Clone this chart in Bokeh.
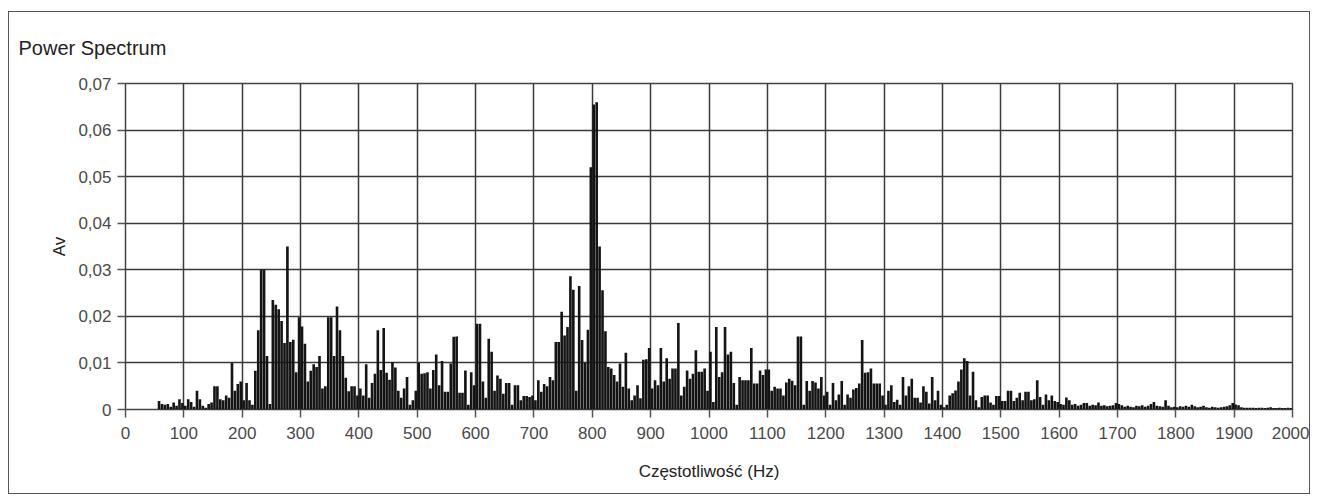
from bokeh.plotting import figure
from bokeh.models import FixedTicker
from bokeh.embed import file_html
from bokeh.resources import INLINE

# Power spectrum amplitudes (Av), one value per 5 Hz bin
av_0_495 = [
    0, 0, 0, 0, 0, 0, 0, 0, 0, 0, 0, 0.0018, 0.0012, 0.001, 0.0012, 0.0006, 0.0015, 0.0008, 0.0022, 0.0014,
    0.0008, 0.0022, 0.0016, 0.0006, 0.004, 0.0022, 0.0008, 0.0004, 0.0012, 0.0015, 0.005, 0.005, 0.0022, 0.002, 0.003, 0.0025, 0.010, 0.004, 0.0055, 0.006,
    0.002, 0.0057, 0.002, 0.001, 0.0083, 0.017, 0.030, 0.030, 0.0115, 0.0012, 0.0235, 0.0225, 0.0215, 0.019, 0.0143, 0.035, 0.0145, 0.015, 0.008, 0.0198,
    0.0178, 0.0141, 0.006, 0.0083, 0.0097, 0.0091, 0.0115, 0.0045, 0.005, 0.0198, 0.0198, 0.0115, 0.0221, 0.017, 0.0115, 0.0068, 0.0039, 0.005, 0.005, 0.003,
    0.0045, 0.003, 0.0097, 0.0025, 0.0057, 0.0077, 0.017, 0.0085, 0.0175, 0.0079, 0.0064, 0.0102, 0.009, 0.004, 0.0025, 0.0045, 0.007, 0.001, 0.002, 0.004,
]
av_500_995 = [
    0.010, 0.0077, 0.0078, 0.008, 0.0045, 0.0085, 0.0118, 0.0052, 0.0104, 0.0038, 0.0038, 0.0099, 0.0156, 0.0157, 0.0036, 0.0036, 0.0084, 0.001, 0.008, 0.0052,
    0.0184, 0.0184, 0.006, 0.0025, 0.0152, 0.0124, 0.004, 0.0073, 0.0066, 0.0034, 0.0057, 0.0057, 0.001, 0.0052, 0.0052, 0.002, 0.0029, 0.0029, 0.0027, 0.003,
    0.002, 0.0063, 0.0038, 0.0055, 0.005, 0.007, 0.0063, 0.0145, 0.0145, 0.021, 0.0159, 0.0177, 0.0286, 0.0257, 0.004, 0.0265, 0.0149, 0.01, 0.0171, 0.052,
    0.0655, 0.066, 0.035, 0.0256, 0.0168, 0.0091, 0.0088, 0.0074, 0.006, 0.0099, 0.0049, 0.0122, 0.0045, 0.002, 0.003, 0.0052, 0.0024, 0.0107, 0.0108, 0.0132,
    0.0045, 0.0063, 0.0052, 0.0132, 0.006, 0.011, 0.0066, 0.0088, 0.0088, 0.0186, 0.003, 0.0049, 0.0084, 0.0066, 0.0077, 0.0127, 0.0081, 0.0081, 0.0088, 0.004,
]
av_1000_1495 = [
    0.0124, 0.0016, 0.0177, 0.007, 0.008, 0.0177, 0.0118, 0.0124, 0.0057, 0.001, 0.007, 0.0063, 0.0063, 0.0063, 0.0132, 0.0056, 0.0056, 0.0084, 0.0074, 0.0086,
    0.0086, 0.004, 0.0049, 0.0045, 0.0045, 0.003, 0.0058, 0.0066, 0.0062, 0.0052, 0.0157, 0.0157, 0.001, 0.0061, 0.004, 0.0061, 0.0058, 0.0045, 0.007, 0.003,
    0.0038, 0.001, 0.0057, 0.002, 0.0032, 0.0061, 0.001, 0.0032, 0.0025, 0.0043, 0.0046, 0.0056, 0.0149, 0.0079, 0.008, 0.0088, 0.0056, 0.0056, 0.0056, 0.003,
    0.001, 0.004, 0.0052, 0.0016, 0.0021, 0.001, 0.007, 0.003, 0.005, 0.0066, 0.0025, 0.0025, 0.0015, 0.005, 0.0038, 0.0013, 0.007, 0.002, 0.004, 0.001,
    0.0005, 0.001, 0.003, 0.0035, 0.0041, 0.006, 0.0086, 0.011, 0.0104, 0.003, 0.0081, 0.002, 0.0005, 0.0027, 0.003, 0.003, 0.0015, 0.001, 0.0029, 0.0029,
]
av_1500_1995 = [
    0.0018, 0.0018, 0.004, 0.004, 0.0018, 0.0025, 0.0036, 0.002, 0.0038, 0.0038, 0.002, 0.0022, 0.0063, 0.0027, 0.001, 0.0032, 0.002, 0.003, 0.0018, 0.0016,
    0.0012, 0.001, 0.0026, 0.002, 0.001, 0.0012, 0.0008, 0.001, 0.0014, 0.0014, 0.0008, 0.001, 0.0009, 0.0015, 0.0008, 0.0009, 0.0007, 0.0008, 0.0009, 0.0014,
    0.0012, 0.0009, 0.0006, 0.0008, 0.0006, 0.0005, 0.0008, 0.0007, 0.0009, 0.0006, 0.0008, 0.0012, 0.0016, 0.0008, 0.0007, 0.0006, 0.002, 0.0008, 0.0005, 0.0006,
    0.0005, 0.0007, 0.0006, 0.0008, 0.0006, 0.001, 0.0007, 0.0005, 0.0006, 0.0008, 0.0005, 0.0004, 0.0006, 0.0005, 0.0004, 0.0005, 0.0006, 0.0007, 0.0009, 0.0014,
    0.0011, 0.0009, 0.0005, 0.0004, 0.0004, 0.0004, 0.0004, 0.0003, 0.0004, 0.0004, 0.0003, 0.0004, 0.0005, 0.0003, 0.0003, 0.0004, 0.0003, 0.0003, 0.0004, 0.0003,
]
bin_width_hz = 5

x_ticks = list(range(0, 2001, 100))
y_ticks = [0, 0.01, 0.02, 0.03, 0.04, 0.05, 0.06, 0.07]
y_tick_labels = ["0", "0,01", "0,02", "0,03", "0,04", "0,05", "0,06", "0,07"]

av = av_0_495 + av_500_995 + av_1000_1495 + av_1500_1995
freq = [i * bin_width_hz + bin_width_hz / 2 for i in range(len(av))]

p = figure(
    frame_width=1167, frame_height=326,
    x_range=(0, 2000), y_range=(0, 0.07),
    output_backend="svg", toolbar_location=None,
    min_border_left=116, min_border_right=17, min_border_top=71, min_border_bottom=84,
)
p.margin = (11, 0, 0, 8)
p.styles = {"border": "1px solid #555"}

p.vbar(x=freq, top=av, width=bin_width_hz * 0.9, bottom=0,
       fill_color="#141414", line_color=None)

p.title.text = "Power Spectrum"
p.title.align = "left"
p.title.vertical_align = "top"
p.title.offset = -107
p.title.standoff = 46
p.title.text_font = "Liberation Sans"
p.title.text_font_size = "20px"
p.title.text_font_style = "normal"
p.title.text_color = "#222222"

p.outline_line_color = "#444444"
p.outline_line_width = 1.5

for ax in (p.xaxis[0], p.yaxis[0]):
    ax.axis_line_color = None
    ax.major_tick_line_color = "#555555"
    ax.major_tick_line_width = 1.5
    ax.minor_tick_line_color = None
    ax.major_tick_in = 0
    ax.major_tick_out = 8
    ax.major_label_text_font = "Liberation Sans"
    ax.major_label_text_font_size = "17px"
    ax.major_label_text_color = "#4a4a4a"
    ax.axis_label_text_font = "Liberation Sans"
    ax.axis_label_text_font_size = "17px"
    ax.axis_label_text_font_style = "normal"
    ax.axis_label_text_color = "#222222"

p.xaxis.ticker = FixedTicker(ticks=x_ticks)
p.xaxis.axis_label = "Częstotliwość (Hz)"
p.xaxis.major_label_standoff = 9
p.xaxis.axis_label_standoff = 20

p.yaxis.ticker = FixedTicker(ticks=y_ticks)
p.yaxis.major_label_overrides = dict(zip(y_ticks, y_tick_labels))
p.yaxis.axis_label = "Av"
p.yaxis.major_label_standoff = 6
p.yaxis.axis_label_standoff = 6

p.xgrid.ticker = FixedTicker(ticks=x_ticks)
p.ygrid.ticker = FixedTicker(ticks=y_ticks)
for g in (p.xgrid[0], p.ygrid[0]):
    g.grid_line_color = "#3a3a3a"
    g.grid_line_width = 1.5
    g.grid_line_alpha = 1.0

p.background_fill_color = "white"
p.border_fill_color = "white"

open("out.html", "w").write(file_html(p, INLINE))
